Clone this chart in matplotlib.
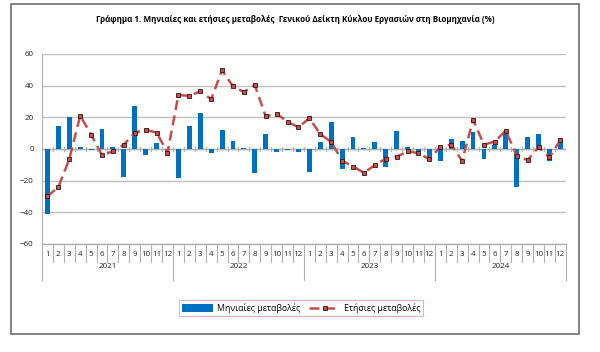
import numpy as np
import matplotlib.pyplot as plt
from matplotlib.patches import Rectangle
from matplotlib.transforms import blended_transform_factory

#region Data
years = ['2021', '2022', '2023', '2024']
months = [str(m) for m in range(1, 13)] * 4

monthly = [-41, 14.5, 20, 1, -1, 12.5, 1.5, -17.5, 27, -4, 3.8, -1,
           -18.5, 14.3, 22.6, -2.5, 12, 4.9, 0.3, -15, 9.3, -2, -0.5, -2,
           -14.8, 4.2, 17, -13, 7.8, 0.5, 4.4, -11.5, 11.2, 1, -2.5, -5.5,
           -7.5, 6, 5, 10.5, -6.5, 2.3, 11.6, -24, 7.8, 9.7, -7.5, 4.4]

annual = [-30, -24, -6.5, 21, 9, -4, -1.5, 2.7, 10.3, 12, 10.3, -2.3,
          34, 33.5, 36.3, 31.4, 49.6, 39.5, 35.9, 40.3, 20.5, 22.2, 17, 13.7,
          19.4, 9.3, 4.4, -7.4, -11.2, -15, -10.3, -6.1, -5, -1.5, -2.7, -6.5,
          1.3, 2.7, -7.6, 18.4, 2.7, 4.6, 11.6, -4.4, -7, 1, -5.3, 5.5]
#endregion

x = np.arange(len(monthly))
font = 'Open Sans'

fig = plt.figure(figsize=[6.0, 3.52], dpi=100)
ax = fig.add_axes([0.07, 0.307, 0.873, 0.54])

# outer frame
fig.patches.append(Rectangle((11 / 600, 1 - 334 / 352), 568 / 600, 330 / 352,
                             transform=fig.transFigure, fill=False,
                             edgecolor='#6d6d6d', linewidth=1.2))

ax.set_axisbelow(True)
ax.yaxis.grid(True, color='#c0c0c0', linewidth=1.0)
bars = ax.bar(x, monthly, width=0.45, color='#0070C0', zorder=2)
line, = ax.plot(x, annual, color='#C0504D', linestyle=(0, (4, 2.2)), linewidth=1.8,
                marker='s', markersize=3.2, markerfacecolor='#C0504D', markeredgecolor='#3a1010',
                markeredgewidth=0.6, zorder=3)

ax.set_xlim(-0.5, len(monthly) - 0.5)
ax.set_ylim(-60, 60)
ax.set_yticks(np.arange(-60, 61, 20))
ax.tick_params(axis='y', length=0, labelsize=5.8, pad=6, labelcolor='#222222')
for lab in ax.get_yticklabels():
    lab.set_fontfamily(font)
ax.set_xticks([])
for s in ['top', 'right', 'bottom']:
    ax.spines[s].set_visible(False)
ax.spines['left'].set_color('#b0b0b0')

# zero line with small ticks
ax.axhline(0, color='#b0b0b0', linewidth=1.0, zorder=1)
for b in np.arange(-0.5, len(monthly), 1):
    ax.plot([b, b], [-1.2, 1.2], color='#b0b0b0', linewidth=0.8, zorder=1)

# category axis below plot
tr = blended_transform_factory(ax.transData, ax.transAxes)
ax.plot([-0.5, len(monthly) - 0.5], [0, 0], transform=tr, color='#b0b0b0',
        linewidth=1.0, clip_on=False)
for b in np.arange(-0.5, len(monthly), 1):
    long = (b + 0.5) % 12 == 0
    ax.plot([b, b], [0, -0.19 if long else -0.095], transform=tr,
            color='#b0b0b0', linewidth=0.8, clip_on=False)
for xi, m in zip(x, months):
    ax.text(xi, -0.055, m, transform=tr, ha='center', va='center',
            fontsize=5.8, family=font, color='#222222')
for k, yr in enumerate(years):
    ax.text(k * 12 + 5.5, -0.12, yr, transform=tr, ha='center', va='center',
            fontsize=5.8, family=font, color='#222222')

fig.text(0.492, 1 - 20 / 352,
         'Γράφημα 1. Μηνιαίες και ετήσιες μεταβολές  Γενικού Δείκτη Κύκλου Εργασιών στη Βιομηχανία (%)',
         ha='center', va='center', fontsize=5.8, fontweight='bold', family=font)

leg = fig.legend([bars, line], ['Μηνιαίες μεταβολές', 'Ετήσιες μεταβολές'],
                 loc='center', bbox_to_anchor=(301 / 600, 1 - 308 / 352), ncol=2,
                 frameon=True, fancybox=False, prop={'family': font, 'size': 6.3},
                 handlelength=3.6, handleheight=0.9, columnspacing=1.0,
                 borderpad=0.35, handletextpad=0.4)
leg.get_frame().set_edgecolor('#e0a0a0')
leg.get_frame().set_linewidth(0.8)

fig.savefig('out.png', dpi=100)
